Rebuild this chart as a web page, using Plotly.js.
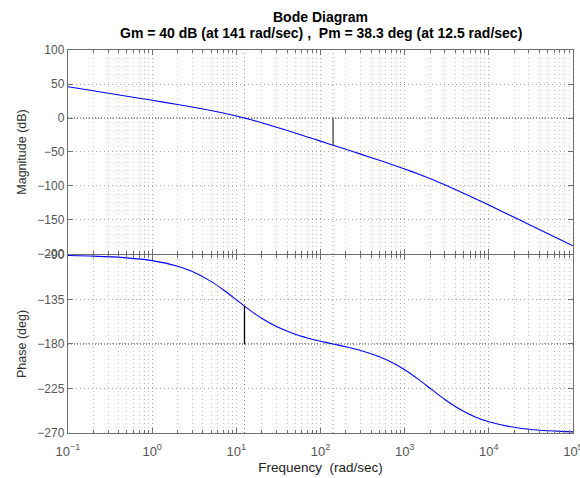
<!DOCTYPE html>
<html>
<head>
<meta charset="utf-8">
<script src="https://cdn.plot.ly/plotly-3.0.1.min.js"></script>
<style>html,body{margin:0;padding:0;background:#fff;}#chart{width:580px;height:478px;}</style>
</head>
<body>
<div id="chart"></div>
<script>
// Frequencies (rad/sec)
const freq = [0.1, 0.2, 0.5, 1, 2, 3, 5, 7, 10, 12.5, 15, 20, 30, 50, 70, 100, 141, 200, 300, 500, 700, 1000, 1500, 2000, 3000, 5000, 7000, 10000, 20000, 30000, 50000, 70000, 100000];
// Magnitude (dB)
const magDb = [46.02, 40.00, 32.03, 25.98, 19.83, 16.10, 11.07, 7.39, 3.01, 0.0, -2.62, -6.99, -13.52, -22.11, -27.88, -34.03, -40.0, -46.08, -53.16, -62.20, -68.28, -74.95, -82.96, -89.03, -98.18, -110.54, -119.00, -128.13, -146.06, -156.60, -169.90, -178.66, -187.96];
// Phase (deg)
const phaseDeg = [-90.58, -91.15, -92.88, -95.74, -101.37, -106.79, -116.71, -125.19, -135.29, -141.7, -146.74, -154.00, -162.43, -170.12, -173.87, -177.15, -180.0, -182.85, -186.62, -192.89, -198.47, -206.0, -216.49, -224.71, -236.12, -248.09, -253.97, -258.63, -264.26, -266.17, -267.70, -268.35, -268.84];
// Margins
const gmFreq = 141, gmDb = -40;        // gain margin 40 dB at 141 rad/sec
const pmFreq = 12.5, pmPhase = -141.7; // phase margin 38.3 deg at 12.5 rad/sec
// Texts and tick labels
const titleLine1 = 'Bode Diagram';
const titleLine2 = 'Gm = 40 dB (at 141 rad/sec) ,  Pm = 38.3 deg (at 12.5 rad/sec)';
const xTickVals = [0.1, 1, 10, 100, 1000, 10000, 100000];
const xTickText = ['10<sup>−1</sup>', '10<sup>0</sup>', '10<sup>1</sup>', '10<sup>2</sup>', '10<sup>3</sup>', '10<sup>4</sup>', '10<sup>5</sup>'];
const magTicks = [-200, -150, -100, -50, 0, 50, 100];
const phaseTicks = [-270, -225, -180, -135, -90];

const minorVals = [];
for (let d = -1; d < 5; d++) for (let k = 2; k <= 9; k++) minorVals.push(k * Math.pow(10, d));

const FONT = 'Liberation Sans, Arial, Helvetica, sans-serif';
const gridCol = '#a8a8a8';
const minorCol = '#c4c4c4';
const lineCol = '#6e6e6e';
const DOT = '1px,3px';

function xAxis(anchor, showLabels) {
  return {
    type: 'log', range: [-1, 5], anchor: anchor,
    tickmode: 'array', tickvals: xTickVals, ticktext: xTickText,
    showticklabels: showLabels, ticklabeloverflow: 'allow',
    ticks: 'inside', ticklen: 5, tickcolor: lineCol, ticklabelstandoff: 6,
    showgrid: true, gridcolor: gridCol, griddash: DOT, gridwidth: 1,
    minor: {tickvals: minorVals, showgrid: true, gridcolor: minorCol, griddash: DOT, ticks: 'inside', ticklen: 3, tickcolor: lineCol},
    showline: true, linecolor: lineCol, linewidth: 1.2, mirror: 'allticks',
    zeroline: false,
    tickfont: {family: FONT, size: 13, color: '#555'}
  };
}
function yAxis(anchor, domain, range, ticks, title) {
  return {
    domain: domain, range: range, anchor: anchor,
    tickmode: 'array', tickvals: ticks,
    ticks: 'inside', ticklen: 5, tickcolor: lineCol,
    showgrid: true, gridcolor: gridCol, griddash: DOT, gridwidth: 1,
    showline: true, linecolor: lineCol, linewidth: 1.2, mirror: 'allticks',
    zeroline: false,
    tickfont: {family: FONT, size: 12, color: '#555'},
    title: {text: title, font: {family: FONT, size: 12.5, color: '#333'}, standoff: 8}
  };
}

const blue = {color: '#0000ff', width: 1.1, shape: 'spline', smoothing: 0.6};
const data = [
  {x: freq, y: magDb, xaxis: 'x', yaxis: 'y', mode: 'lines', line: blue, hoverinfo: 'skip'},
  {x: freq, y: phaseDeg, xaxis: 'x2', yaxis: 'y2', mode: 'lines', line: blue, hoverinfo: 'skip'},
  {x: [gmFreq, gmFreq], y: [0, gmDb], xaxis: 'x', yaxis: 'y', mode: 'lines', line: {color: '#444', width: 1.3}, hoverinfo: 'skip'},
  {x: [pmFreq, pmFreq], y: [-180, pmPhase], xaxis: 'x2', yaxis: 'y2', mode: 'lines', line: {color: '#000', width: 1.3}, hoverinfo: 'skip'}
];

const shapes = [
  {type: 'line', xref: 'x domain', yref: 'y', x0: 0, x1: 1, y0: 0, y1: 0, line: {color: '#333', width: 1, dash: '1px,2px'}, layer: 'below'},
  {type: 'line', xref: 'x2 domain', yref: 'y2', x0: 0, x1: 1, y0: -180, y1: -180, line: {color: '#333', width: 1, dash: '1px,2px'}, layer: 'below'},
  {type: 'line', xref: 'x', yref: 'y domain', x0: gmFreq, x1: gmFreq, y0: 0, y1: 1, line: {color: '#999', width: 1, dash: DOT}, layer: 'below'},
  {type: 'line', xref: 'x2', yref: 'y2 domain', x0: gmFreq, x1: gmFreq, y0: 0, y1: 1, line: {color: '#999', width: 1, dash: DOT}, layer: 'below'},
  {type: 'line', xref: 'x', yref: 'y domain', x0: pmFreq, x1: pmFreq, y0: 0, y1: 1, line: {color: '#999', width: 1, dash: DOT}, layer: 'below'},
  {type: 'line', xref: 'x2', yref: 'y2 domain', x0: pmFreq, x1: pmFreq, y0: 0, y1: 1, line: {color: '#777', width: 1, dash: DOT}, layer: 'below'}
];

const annotations = [
  {text: '<b>' + titleLine1 + '</b>', xref: 'paper', yref: 'paper', x: 0.5, y: 1.0862, xanchor: 'center', yanchor: 'middle', showarrow: false, font: {family: FONT, size: 14, color: '#000'}},
  {text: '<b>' + titleLine2 + '</b>', xref: 'paper', yref: 'paper', x: 0.5, y: 1.0431, xanchor: 'center', yanchor: 'middle', showarrow: false, font: {family: FONT, size: 14, color: '#000'}}
];

const layout = {
  width: 580, height: 478,
  margin: {l: 68, r: 7, t: 50, b: 45},
  paper_bgcolor: '#fff', plot_bgcolor: '#fff',
  showlegend: false,
  xaxis: xAxis('y', false),
  xaxis2: Object.assign(xAxis('y2', true), {title: {text: 'Frequency  (rad/sec)', font: {family: FONT, size: 13.5, color: '#222'}, standoff: 4}}),
  yaxis: yAxis('x', [0.4674, 1], [-200, 100], magTicks, 'Magnitude (dB)'),
  yaxis2: yAxis('x2', [0, 0.4648], [-270, -90], phaseTicks, 'Phase (deg)'),
  shapes: shapes,
  annotations: annotations
};

Plotly.newPlot('chart', data, layout, {staticPlot: true, displayModeBar: false});
</script>
</body>
</html>
